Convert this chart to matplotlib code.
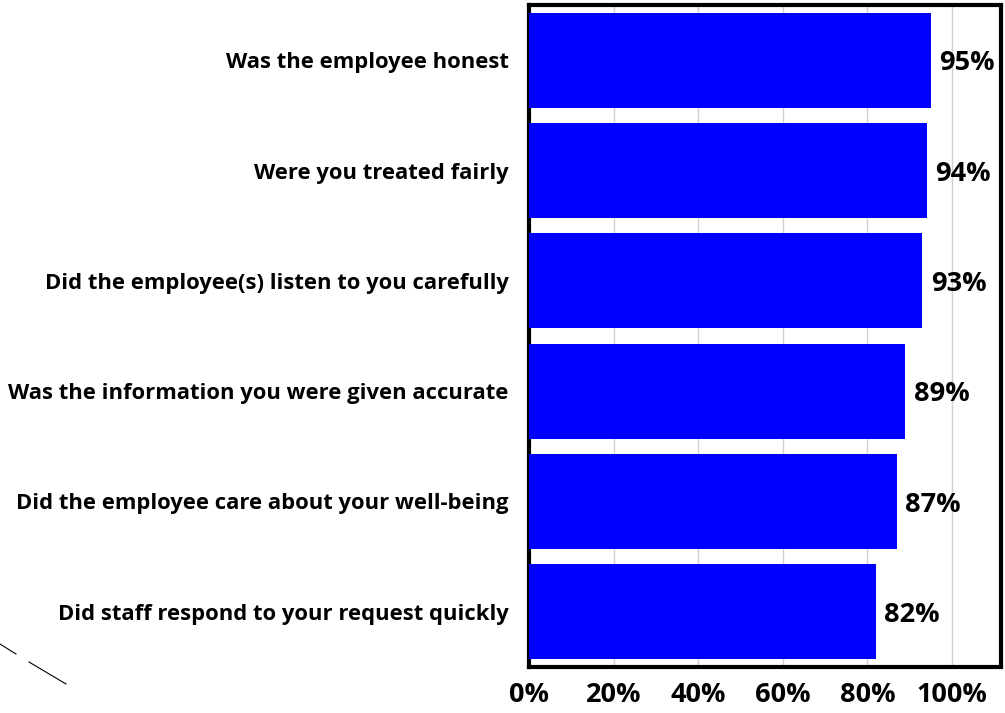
import matplotlib
matplotlib.use("Agg")
import matplotlib.pyplot as plt
from matplotlib.lines import Line2D

categories = [
    "Was the employee honest",
    "Were you treated fairly",
    "Did the employee(s) listen to you carefully",
    "Was the information you were given accurate",
    "Did the employee care about your well-being",
    "Did staff respond to your request quickly",
]
values = [95, 94, 93, 89, 87, 82]
xticks = [0, 20, 40, 60, 80, 100]
xtick_labels = ["0%", "20%", "40%", "60%", "80%", "100%"]

W, H = 1005, 713
fig = plt.figure(figsize=(W / 100, H / 100), dpi=100)
left, right, top, bottom = 529, 1001, 5, 667
ax = fig.add_axes([left / W, 1 - bottom / H, (right - left) / W, (bottom - top) / H])

FONT = "Open Sans"
pos = list(range(len(categories)))
ax.barh(pos, values, height=0.86, color="#0000FF", zorder=3)
ax.set_ylim(len(categories) - 0.5, -0.5)
ax.set_xlim(0, 111.6)
ax.set_xticks(xticks)
ax.set_xticklabels(xtick_labels, fontsize=19.5, fontweight="bold", family=FONT)
ax.set_yticks(pos)
ax.set_yticklabels(categories, fontsize=15.8, fontweight="bold", family=FONT)
ax.tick_params(axis="both", length=0)
ax.tick_params(axis="y", pad=14.5)
ax.tick_params(axis="x", pad=10.5)
ax.grid(axis="x", color="#d0d0d0", linewidth=1, zorder=0)
for s in ax.spines.values():
    s.set_linewidth(3)
    s.set_color("black")

for p, v in zip(pos, values):
    ax.text(v + 2, p + 0.03, f"{v}%", va="center", ha="left", fontsize=19.5,
            fontweight="bold", family=FONT)

# stray diagonal lines at bottom-left
fig.add_artist(Line2D([0 / W, 16 / W], [1 - 644 / H, 1 - 654 / H], color="black", lw=0.8))
fig.add_artist(Line2D([29 / W, 66 / W], [1 - 662 / H, 1 - 684 / H], color="black", lw=0.8))

fig.savefig("out.png", dpi=100)
